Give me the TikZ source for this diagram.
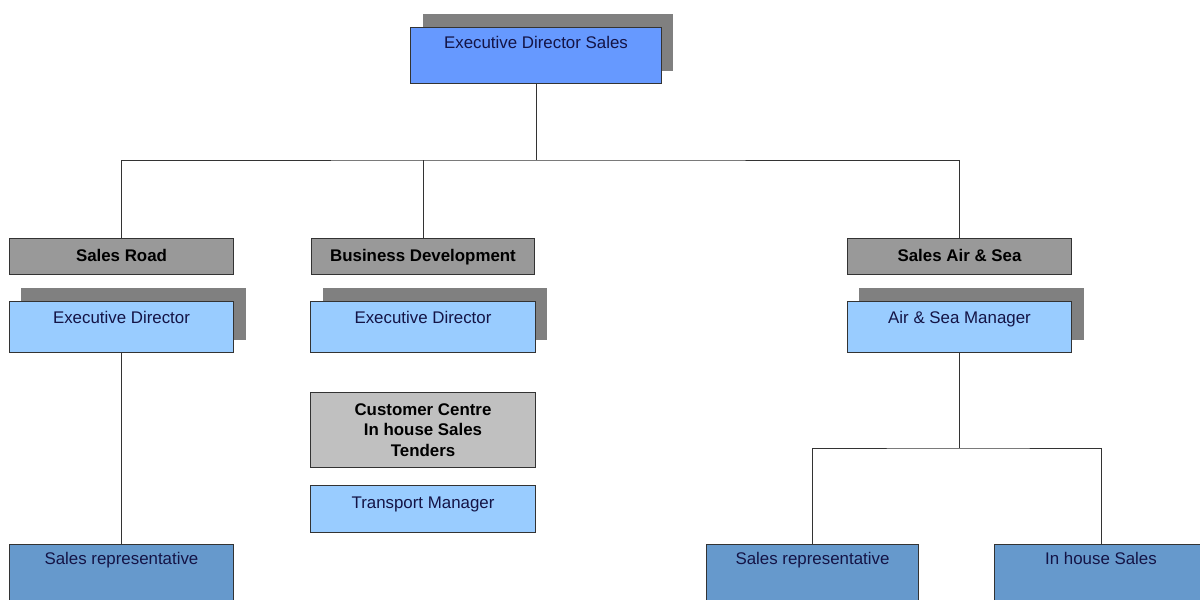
\documentclass[tikz,border=0pt]{standalone}
\usepackage{fontspec}
\setmainfont{Liberation Sans}
\usetikzlibrary{shadows}
\definecolor{topblue}{RGB}{102,153,255}
\definecolor{lightblue}{RGB}{153,204,255}
\definecolor{steelblue}{RGB}{102,153,204}
\definecolor{headgray}{RGB}{153,153,153}
\definecolor{custgray}{RGB}{192,192,192}
\definecolor{shadowgray}{RGB}{128,128,128}
\definecolor{navy}{RGB}{20,20,70}
\begin{document}
\begin{tikzpicture}[x=0.025cm,y=-0.025cm,
		font=\fontsize{12}{14}\selectfont,
		box/.style={draw=black!80,line width=0.7pt,inner sep=0pt,anchor=north,align=center,text=navy},
		shad/.style={general shadow={fill=shadowgray,shadow xshift=0.3cm,shadow yshift=0.325cm}},
		topbox/.style={box,shad,fill=topblue,minimum width=6.25cm,text height=0.525cm,text depth=0.875cm},
		headbox/.style={box,fill=headgray,minimum width=5.575cm,text height=0.575cm,text depth=0.325cm,text=black,font=\fontsize{12}{14}\selectfont\bfseries},
		mgrbox/.style={box,shad,fill=lightblue,minimum width=5.6cm,text height=0.55cm,text depth=0.725cm},
		staffbox/.style={box,fill=steelblue,text height=0.5cm,text depth=1.2cm},
		link/.style={draw=black!80,line width=0.7pt}]
		\useasboundingbox (0,0) rectangle (1200,599);
		\clip (0,0) rectangle (1200,599);
		% Toppleder
		\node[topbox] (top) at (536,27) {Executive Director Sales};
		% Avdelinger
		\node[headbox] (hroad) at (121.5,238) {Sales Road};
		\node[headbox] (hbus) at (423,238) {Business Development};
		\node[headbox] (hairsea) at (959.5,238) {Sales Air \& Sea};
		% Ledere
		\node[mgrbox] (edroad) at (121.5,301) {Executive Director};
		\node[mgrbox] (edbus) at (423,301) {Executive Director};
		\node[mgrbox] (asm) at (959.5,301) {Air \& Sea Manager};
		% Business Development, under
		\node[box,fill=custgray,minimum width=5.6cm,minimum height=1.875cm,text=black,font=\fontsize{12}{14.5}\selectfont\bfseries] (cust) at (423,392) {Customer Centre\\In house Sales\\Tenders};
		\node[box,fill=lightblue,minimum width=5.6cm,text height=0.575cm,text depth=0.6cm] (transp) at (423,485) {Transport Manager};
		% Nederste nivaa
		\node[staffbox,minimum width=5.575cm] (reproad) at (121.5,544) {Sales representative};
		\node[staffbox,minimum width=5.275cm] (repair) at (812.5,544) {Sales representative};
		\node[staffbox,minimum width=5.3cm] (inhouse) at (1101,544) {In house Sales};
		% Linjer fra toppen
		\coordinate (bus) at (536,160);
		\draw[link] (top.south) -- (bus);
		\draw[link] (hroad.north) |- (bus) -| (hairsea.north);
		\draw[link] (hbus.north) -- (hbus.north |- bus);
		% Sales Road
		\draw[link] (edroad.south) -- (reproad.north);
		% Air & Sea
		\coordinate (asbus) at (959.5,448);
		\draw[link] (asm.south) -- (asbus);
		\draw[link] (repair.north) |- (asbus) -| (inhouse.north);
	\end{tikzpicture}
\end{document}
